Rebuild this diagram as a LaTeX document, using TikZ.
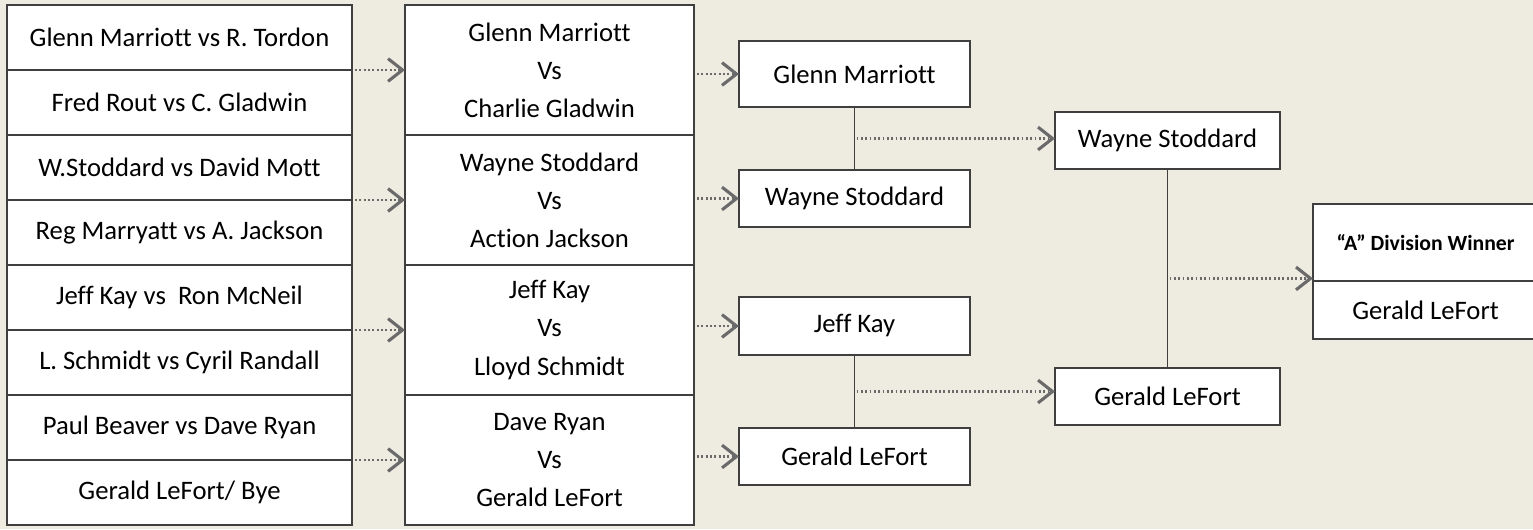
\documentclass[tikz,border=0pt]{standalone}
\usepackage{fontspec}
\setmainfont{Carlito}[Ligatures=NoCommon]
\usepackage{xcolor}
\usepackage{tikz}
\usetikzlibrary{calc,arrows.meta,positioning}
\definecolor{paper}{HTML}{EEECE1}
\definecolor{edge}{HTML}{3F3F3F}
\definecolor{flow}{HTML}{6A6A6A}
\newcommand{\px}{0.017cm}
\tikzset{
  cell/.style={draw=edge, fill=white, line width=0.75pt, inner sep=0pt, outer sep=0pt,
    anchor=north west, font=\fontsize{12.9}{18.4}\selectfont, align=center},
  link/.style={draw=edge, line width=0.8pt},
  adv/.style={draw=flow, line width=1.1pt, dash pattern=on 0.9pt off 1.2pt,
    -{Straight Barb[length=7pt, width=11pt, line width=1.5pt]}},
}
\begin{document}
\begin{tikzpicture}[x=\px, y=-\px]
\useasboundingbox[fill=paper] (0,0) rectangle (1533,529);

% first round (8 matches)
\foreach \i/\t in {1/{Glenn Marriott vs R. Tordon},2/{Fred Rout vs C. Gladwin},
  3/{W.Stoddard vs David Mott},4/{Reg Marryatt vs A. Jackson},
  5/{Jeff Kay vs\ \ Ron McNeil},6/{L. Schmidt vs Cyril Randall},
  7/{Paul Beaver vs Dave Ryan},8/{Gerald LeFort/ Bye}}{
  \node[cell, minimum width=345*\px, minimum height=65*\px] (r\i) at (7,{5+65*(\i-1)}) {\t};
}

% quarter finals
\foreach \i/\t in {1/{Glenn Marriott\\Vs\\Charlie Gladwin},2/{Wayne Stoddard\\Vs\\Action Jackson},
  3/{Jeff Kay\\Vs\\Lloyd Schmidt},4/{Dave Ryan\\Vs\\Gerald LeFort}}{
  \node[cell, minimum width=289*\px, minimum height=130*\px] (m\i) at (405,{5+130*(\i-1)}) {\t};
}

% semi finals
\node[cell, minimum width=231*\px, minimum height=66*\px] (w1) at (739,41) {Glenn Marriott};
\node[cell, minimum width=231*\px, minimum height=57*\px] (w2) at (739,170) {Wayne Stoddard};
\node[cell, minimum width=231*\px, minimum height=58*\px] (w3) at (739,297) {Jeff Kay};
\node[cell, minimum width=231*\px, minimum height=57*\px] (w4) at (739,428) {Gerald LeFort};

% final
\node[cell, minimum width=225*\px, minimum height=57*\px] (s1) at (1055,112) {Wayne Stoddard};
\node[cell, minimum width=225*\px, minimum height=57*\px] (s2) at (1055,368) {Gerald LeFort};

% winner
\node[cell, minimum width=225*\px, minimum height=77*\px, font=\fontsize{10.5}{12}\selectfont\bfseries]
  (t) at (1313,204) {“A” Division Winner};
\node[cell, minimum width=225*\px, minimum height=58*\px] (g) at (1313,281) {Gerald LeFort};

% round 1 -> quarter finals
\foreach \a/\b in {1/1,3/2,5/3,7/4}{
  \draw[adv] ([xshift=3*\px]r\a.south east) -- (m\b.west);
}
% quarter finals -> semi finals
\foreach \i in {1,...,4}{
  \draw[adv] ([xshift=3*\px]m\i.east |- w\i) -- (w\i.west);
}

% semi final pairs
\draw[link] (w1.south) -- coordinate[midway] (j1) (w2.north);
\draw[link] (w3.south) -- coordinate[midway] (j2) (w4.north);
\draw[adv] ([xshift=2*\px]j1) -- (j1 -| s1.west);
\draw[adv] ([xshift=2*\px]j2) -- (j2 -| s2.west);

% final pair
\draw[link] (s1.south) -- coordinate[pos=0.55] (j3) (s2.north);
\draw[adv] ([xshift=2*\px]j3) -- (j3 -| t.west);
\end{tikzpicture}
\end{document}
